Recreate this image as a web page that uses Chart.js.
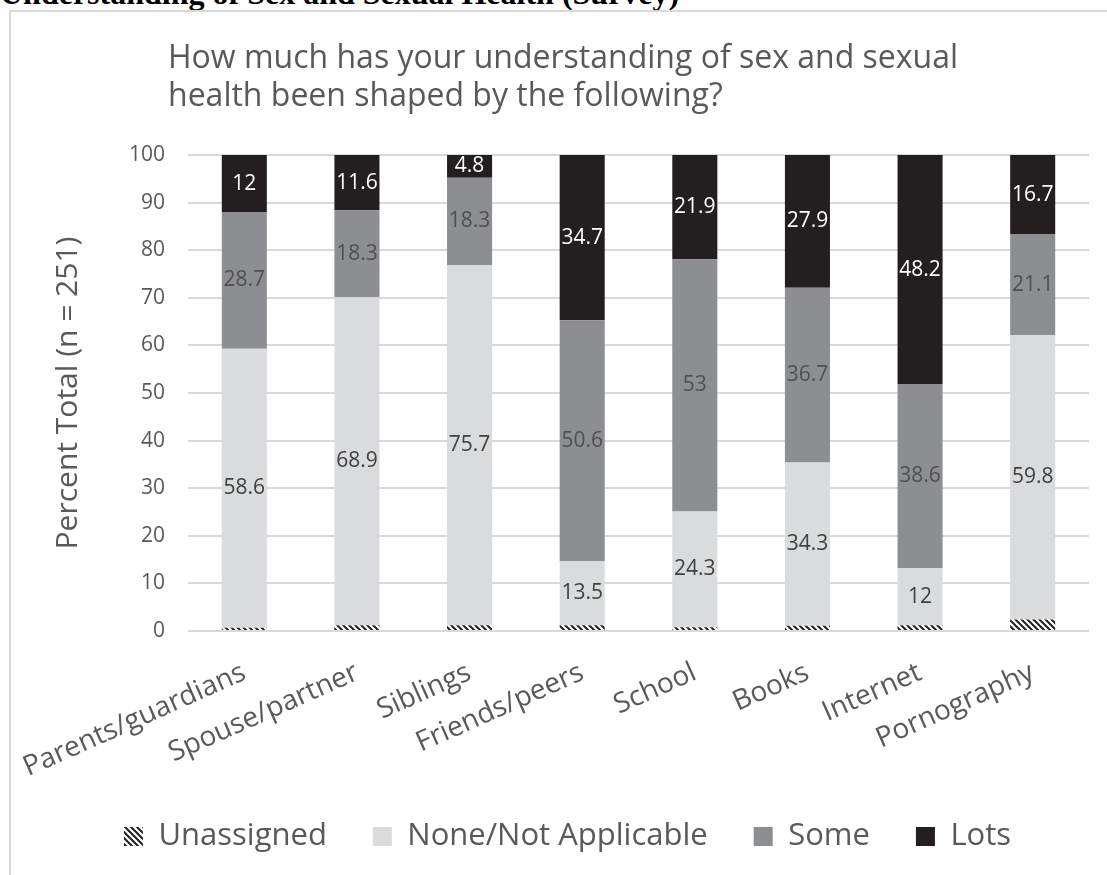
<!DOCTYPE html>
<html>
<head>
<meta charset="utf-8">
<script src="https://cdn.jsdelivr.net/npm/chart.js@4.4.0/dist/chart.umd.min.js"></script>
<style>
  html, body { margin:0; padding:0; background:#fff; overflow:hidden; }
  body { width:1107px; height:875px; position:relative; }
  #heading { position:absolute; left:0; top:-27px; font-family:"Liberation Serif","Times New Roman",serif; font-weight:bold; font-size:32px; color:#000; white-space:nowrap; line-height:40px; z-index:0; }
  #box { position:absolute; left:9px; top:10px; width:1110px; height:900px; border:2px solid #D9D9D9; background:#fff; z-index:1; box-sizing:border-box; }
  #title { position:absolute; left:168px; top:37px; font-family:"Open Sans",sans-serif; font-size:32px; line-height:38px; color:#595959; z-index:3; white-space:nowrap; }
  #wrap { position:absolute; left:0; top:0; width:1107px; height:875px; z-index:2; }
</style>
</head>
<body>
<div id="heading">Understanding of Sex and Sexual Health (Survey)</div>
<div id="box"></div>
<div id="title">How much has your understanding of sex and sexual<br>health been shaped by the following?</div>
<div id="wrap"><canvas id="c" width="1107" height="875"></canvas></div>
<script>
const categories = ["Parents/guardians","Spouse/partner","Siblings","Friends/peers","School","Books","Internet","Pornography"];
const unassigned = [0.7, 1.2, 1.2, 1.2, 0.8, 1.1, 1.2, 2.4];
const noneNA     = [58.6, 68.9, 75.7, 13.5, 24.3, 34.3, 12, 59.8];
const some       = [28.7, 18.3, 18.3, 50.6, 53, 36.7, 38.6, 21.1];
const lots       = [12, 11.6, 4.8, 34.7, 21.9, 27.9, 48.2, 16.7];
const seriesNames = ["Unassigned","None/Not Applicable","Some","Lots"];
const yTicks = [0,10,20,30,40,50,60,70,80,90,100];

function hatch() {
  const p = document.createElement('canvas');
  p.width = 6; p.height = 6;
  const g = p.getContext('2d');
  g.fillStyle = '#fff'; g.fillRect(0,0,6,6);
  g.strokeStyle = '#231F20'; g.lineWidth = 2;
  g.beginPath();
  g.moveTo(-1,-1); g.lineTo(7,7);
  g.moveTo(-4,2); g.lineTo(4,10);
  g.moveTo(2,-4); g.lineTo(10,4);
  g.stroke();
  return document.getElementById('c').getContext('2d').createPattern(p,'repeat');
}

const labelColors = [null, '#404040', '#505050', '#ffffff'];

const valueLabels = {
  id: 'valueLabels',
  afterDatasetsDraw(chart) {
    const ctx = chart.ctx;
    ctx.save();
    ctx.font = '21px "Open Sans", sans-serif';
    ctx.textAlign = 'center';
    ctx.textBaseline = 'middle';
    chart.data.datasets.forEach((ds, di) => {
      if (!labelColors[di]) return;
      const meta = chart.getDatasetMeta(di);
      meta.data.forEach((el, i) => {
        const p = el.getProps(['x','y','base'], true);
        ctx.fillStyle = labelColors[di];
        ctx.fillText(String(ds.data[i]), p.x, (p.y + p.base) / 2);
      });
    });
    ctx.restore();
  }
};

const ctx = document.getElementById('c');
new Chart(ctx, {
  type: 'bar',
  data: {
    labels: categories,
    datasets: [
      { label: seriesNames[0], data: unassigned, backgroundColor: hatch() },
      { label: seriesNames[1], data: noneNA, backgroundColor: '#DADBDD' },
      { label: seriesNames[2], data: some, backgroundColor: '#8D8E91' },
      { label: seriesNames[3], data: lots, backgroundColor: '#231F20' }
    ]
  },
  options: {
    responsive: false,
    animation: false,
    datasets: { bar: { barPercentage: 0.8, categoryPercentage: 0.5 } },
    layout: { padding: { left: 46, right: 18, top: 155, bottom: 13 } },
    plugins: {
      tooltip: { enabled: false },
      legend: {
        position: 'bottom',
        labels: {
          font: { family: '"Open Sans", sans-serif', size: 31 },
          color: '#595959',
          boxWidth: 19, boxHeight: 19,
          padding: 46
        }
      }
    },
    scales: {
      x: {
        stacked: true,
        grid: { display: false, drawTicks: false },
        border: { display: false },
        ticks: {
          color: '#595959',
          font: { family: '"Open Sans", sans-serif', size: 28 },
          minRotation: 24, maxRotation: 24,
          padding: 25,
          autoSkip: false
        },
        afterFit(s) { s.height = 144; s.paddingLeft = 0; s.paddingRight = 0; }
      },
      y: {
        stacked: true,
        min: 0, max: 100,
        afterBuildTicks(s) { s.ticks = yTicks.map(v => ({ value: v })); },
        grid: { color: '#D9D9D9', lineWidth: 2, drawTicks: false },
        border: { display: false },
        ticks: {
          color: '#595959',
          font: { family: '"Open Sans", sans-serif', size: 21 },
          padding: 23
        },
        title: {
          display: true,
          text: 'Percent Total (n = 251)',
          color: '#595959',
          font: { family: '"Open Sans", sans-serif', size: 30 },
          padding: { top: 4, bottom: 4 }
        },
        afterFit(s) { s.width = 142; }
      }
    }
  },
  plugins: [valueLabels]
});
</script>
</body>
</html>
